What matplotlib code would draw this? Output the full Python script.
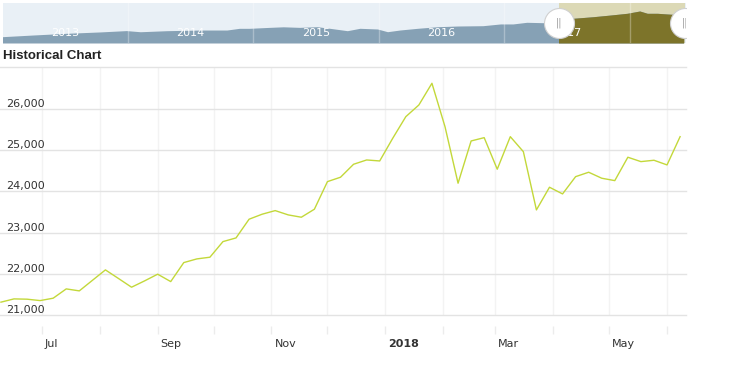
import numpy as np
import pandas as pd
import matplotlib
matplotlib.use("Agg")
import matplotlib.pyplot as plt
import matplotlib.dates as mdates
from matplotlib.transforms import blended_transform_factory

# weekly closes shown in the main chart (Jun 2017 - Jun 2018)
week_start = "2017-06-09"
dow_close = [21315, 21394, 21387, 21353, 21411, 21636, 21588, 21842, 22096, 21888,
             21677, 21830, 21992, 21813, 22273, 22362, 22403, 22781, 22870, 23323,
             23444, 23531, 23427, 23371, 23565, 24233, 24339, 24653, 24757, 24733,
             25283, 25805, 26088, 26613, 25563, 24194, 25217, 25297, 24533, 25321,
             24958, 23548, 24097, 23935, 24353, 24460, 24315, 24257, 24823, 24717,
             24750, 24637, 25321]
y_ticks = [21000, 22000, 23000, 24000, 25000, 26000, 27000]
month_labels = {"2017-07": "Jul", "2017-09": "Sep", "2017-11": "Nov",
                "2018-01": "2018", "2018-03": "Mar", "2018-05": "May"}

# navigator series (rough, whole history)
nav_year = [2013.00, 2013.25, 2013.52, 2013.78, 2013.99, 2014.10, 2014.31, 2014.58,
            2014.79, 2014.89, 2014.97, 2015.13, 2015.24, 2015.37, 2015.51, 2015.61,
            2015.75, 2015.85, 2015.99, 2016.07, 2016.17, 2016.31, 2016.47, 2016.63,
            2016.83, 2016.97, 2017.07, 2017.18, 2017.31, 2017.45, 2017.55, 2017.71,
            2017.85, 2017.98, 2018.08, 2018.14, 2018.22, 2018.30, 2018.43]
nav_value = [13300, 14200, 15100, 15800, 16500, 15900, 16450, 16800,
             16800, 17700, 17700, 18200, 18500, 18200, 18550, 17710,
             16450, 17710, 17350, 15920, 16820, 17710, 18550, 18920,
             19080, 20000, 20000, 20870, 20660, 22080, 22970, 23810,
             24710, 25600, 26810, 25600, 25600, 25240, 24710]
nav_years = [2013, 2014, 2015, 2016, 2017]

dates = pd.date_range(week_start, periods=len(dow_close), freq="7D")
x_min = pd.Timestamp("2017-06-08 12:00")
x_max = pd.Timestamp("2018-06-11 04:00")

def frac_year(ts):
    start = pd.Timestamp(year=ts.year, month=1, day=1)
    return ts.year + (ts - start).days / 365.0

W, H = 750, 369
fig = plt.figure(figsize=(W / 100, H / 100), dpi=100)

# ---------------- main chart
ax = fig.add_axes([0, (H - 316) / H, 686 / W, (316 - 67.3) / H])
ax.plot(dates, dow_close, color="#c3d83a", lw=1.0, zorder=3)
ax.set_xlim(x_min, x_max)
ax.set_ylim(20980, 27000)

for v in y_ticks:
    ax.axhline(v, color="#e3e3e3", lw=1, zorder=1, clip_on=False)
months = pd.date_range("2017-07-01", "2018-06-01", freq="MS")
for m in months:
    ax.axvline(m, color="#f3f3f3", lw=1, zorder=0)

for s in ax.spines.values():
    s.set_visible(False)
ax.spines["bottom"].set_position(("outward", 7))
ax.set_yticks([])
ax.set_xticks(months)
ax.set_xticklabels([])
ax.tick_params(axis="x", length=6, color="#ececec", width=1)

ty = blended_transform_factory(ax.transAxes, ax.transData)
for v in y_ticks[:-1]:
    ax.text(6 / 686, v + 45, f"{v:,}", transform=ty, ha="left", va="baseline",
            fontsize=8, color="#333333", family="DejaVu Sans")

tx = blended_transform_factory(ax.transData, ax.transAxes)
for key, lab in month_labels.items():
    d = pd.Timestamp(key + "-01") + pd.Timedelta(days=1.6)
    ax.text(d, -0.1126, lab, transform=tx, ha="left", va="center", fontsize=8,
            color="#333333", family="DejaVu Sans",
            fontweight="bold" if lab == "2018" else "normal")

fig.text(3 / W, 1 - 56 / H, "Historical Chart", ha="left", va="center",
         fontsize=9.5, fontweight="bold", color="#222222", family="Liberation Sans")

# ---------------- navigator
nav_lo, nav_hi = 9981, 31021
nav = fig.add_axes([2.5 / W, (H - 43) / H, (686 - 2.5) / W, 40 / H])
nav.set_xlim(2013.002, 2013 + (686 - 2.2) / 125.5)
nav.set_ylim(nav_lo, nav_hi)
nav.set_facecolor("#e9f0f6")
sel_start, sel_end = frac_year(x_min), frac_year(x_max)
nav.axvspan(sel_start, sel_end, color="#dcd9b6", zorder=0, lw=0)
nav.fill_between(nav_year, nav_value, nav_lo, color="#86a1b5", lw=0, zorder=1)
olive = nav.fill_between(nav_year, nav_value, nav_lo, color="#7d742a", lw=0, zorder=2)
clip = plt.Rectangle((sel_start, nav_lo), sel_end - sel_start, nav_hi - nav_lo,
                     transform=nav.transData, visible=False)
nav.add_patch(clip)
olive.set_clip_path(clip)
for yr in nav_years[1:] + [2018]:
    nav.axvline(yr, color="white", alpha=0.3, lw=1, zorder=3)
for yr in nav_years:
    nav.text(yr + 0.5, 0.25, str(yr), transform=nav.get_xaxis_transform(),
             ha="center", va="center", fontsize=8, color="white", zorder=4)

hy = nav.get_xaxis_transform()
for xh in (sel_start, sel_end):
    nav.plot([xh], [0.5], "o", ms=21.6, mfc="white", mec="#d0d0d0", mew=0.8,
             transform=hy, zorder=6)
    nav.text(xh, 0.5, "||", transform=hy, ha="center", va="center", fontsize=7,
             color="#999999", zorder=7, clip_on=True)
nav.set_xticks([])
nav.set_yticks([])
for s in nav.spines.values():
    s.set_visible(False)

fig.savefig("out.png", dpi=100)
